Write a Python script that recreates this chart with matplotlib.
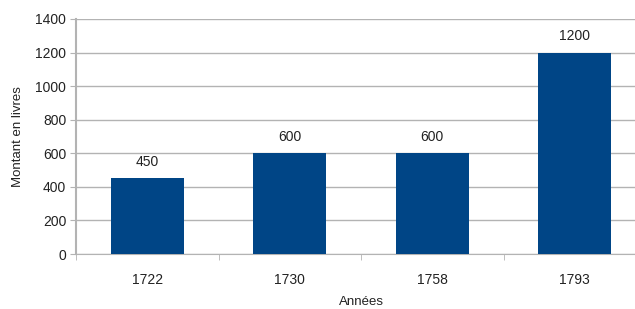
import matplotlib.pyplot as plt

# Data
annees = ["1722", "1730", "1758", "1793"]
montants = [450, 600, 600, 1200]
y_ticks = [0, 200, 400, 600, 800, 1000, 1200, 1400]

plt.rcParams['font.family'] = ['Liberation Sans', 'DejaVu Sans']

bar_color = '#004586'
grid_color = '#b3b3b3'
text_color = '#222222'

fig = plt.figure(figsize=(6.35, 3.09), dpi=100)
# plot area runs past the right edge of the picture, as in the original
ax = fig.add_axes([76 / 635, 1 - 254 / 309, 570 / 635, 235 / 309])

x = list(range(len(annees)))
ax.bar(x, montants, width=0.51, color=bar_color, zorder=3)

for xi, v in zip(x, montants):
    ax.annotate(str(v), (xi, v), xytext=(0, 7), textcoords='offset points',
                ha='center', va='bottom', fontsize=10, color=text_color)

ax.set_xlim(-0.5, len(annees) - 0.5)
ax.set_ylim(0, 1400)
ax.set_yticks(y_ticks)
ax.yaxis.grid(True, color=grid_color, linewidth=1, zorder=0)

# category labels centred, tick marks on the category boundaries
ax.set_xticks(x)
ax.set_xticklabels(annees)
ax.set_xticks([i - 0.5 for i in range(len(annees) + 1)], minor=True)
ax.tick_params(axis='x', which='major', length=0, pad=14, labelsize=10, colors=text_color)
ax.tick_params(axis='x', which='minor', length=4, color=grid_color)
ax.tick_params(axis='y', length=4, color=grid_color, labelsize=10, labelcolor=text_color, pad=3)

for side in ['top', 'right']:
    ax.spines[side].set_visible(False)
ax.spines['left'].set_color(grid_color)
ax.spines['bottom'].set_color(grid_color)
ax.spines['left'].set_linewidth(1.5)

ax.set_xlabel("Années", fontsize=9.5, color=text_color, labelpad=6)
ax.set_ylabel("Montant en livres", fontsize=9.5, color=text_color, labelpad=8)

fig.savefig("out.png", dpi=100)
